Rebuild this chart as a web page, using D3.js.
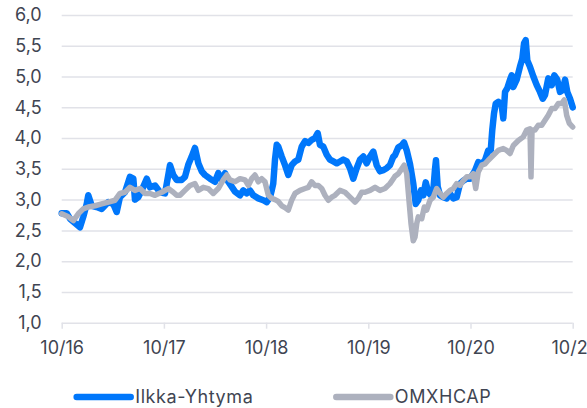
<!DOCTYPE html>
<html>
<head>
<meta charset="utf-8">
<script src="https://cdn.jsdelivr.net/npm/d3@7"></script>
<style>
  html, body { margin: 0; padding: 0; background: #ffffff; }
  svg { display: block; font-family: Inter, "Open Sans", sans-serif; }
</style>
</head>
<body>
<svg id="chart" width="587" height="408"></svg>
<script>
// ---- Data (decimal year, value) ----
const seriesNames = ["Ilkka-Yhtyma", "OMXHCAP"];

const ilkkaDates = [2016.750,2016.799,2016.831,2016.880,2016.929,2016.961,2016.995,2017.010,2017.044,2017.092,2017.141,2017.206,2017.255,2017.288,2017.320,2017.369,2017.418,2017.451,2017.467,2017.500,2017.533,2017.582,2017.614,2017.663,2017.712,2017.761,2017.810,2017.842,2017.875,2017.924,2017.956,2017.989,2018.022,2018.054,2018.087,2018.120,2018.152,2018.201,2018.250,2018.282,2018.316,2018.348,2018.380,2018.413,2018.446,2018.495,2018.527,2018.560,2018.592,2018.625,2018.674,2018.723,2018.756,2018.788,2018.805,2018.820,2018.837,2018.854,2018.869,2018.903,2018.935,2018.967,2019.000,2019.033,2019.065,2019.098,2019.131,2019.163,2019.196,2019.228,2019.255,2019.277,2019.310,2019.343,2019.375,2019.408,2019.441,2019.473,2019.505,2019.539,2019.571,2019.603,2019.636,2019.669,2019.701,2019.734,2019.767,2019.799,2019.832,2019.864,2019.897,2019.930,2019.962,2019.995,2020.011,2020.044,2020.077,2020.099,2020.126,2020.158,2020.190,2020.214,2020.239,2020.266,2020.288,2020.312,2020.337,2020.364,2020.386,2020.403,2020.412,2020.429,2020.452,2020.484,2020.517,2020.549,2020.582,2020.615,2020.647,2020.680,2020.713,2020.745,2020.794,2020.826,2020.860,2020.892,2020.924,2020.948,2020.963,2020.980,2020.997,2021.022,2021.055,2021.071,2021.088,2021.110,2021.137,2021.153,2021.169,2021.202,2021.234,2021.257,2021.274,2021.290,2021.306,2021.332,2021.365,2021.398,2021.430,2021.457,2021.479,2021.511,2021.545,2021.570,2021.599,2021.626,2021.652,2021.675,2021.697,2021.724,2021.750];
const ilkkaValues = [2.78,2.78,2.69,2.62,2.55,2.72,2.93,3.07,2.90,2.88,2.85,2.96,2.93,2.80,3.04,3.12,3.37,3.34,3.00,3.04,3.15,3.34,3.20,3.23,3.12,3.10,3.56,3.40,3.32,3.32,3.37,3.57,3.70,3.84,3.59,3.46,3.40,3.34,3.29,3.43,3.32,3.43,3.29,3.21,3.13,3.07,3.15,3.10,3.15,3.07,3.02,2.99,2.96,3.04,3.15,3.26,3.65,3.89,3.86,3.70,3.56,3.40,3.56,3.62,3.65,3.86,3.95,3.92,3.97,4.00,4.08,3.89,3.86,3.73,3.65,3.62,3.59,3.62,3.65,3.62,3.51,3.34,3.51,3.65,3.70,3.59,3.70,3.78,3.56,3.46,3.48,3.51,3.56,3.70,3.72,3.85,3.88,3.93,3.80,3.58,3.26,2.93,2.99,3.15,3.07,3.28,3.12,3.07,3.15,3.50,3.64,3.21,3.07,3.04,3.02,3.10,3.02,3.04,3.26,3.31,3.34,3.34,3.47,3.61,3.58,3.64,3.80,3.80,4.13,4.40,4.56,4.59,4.53,4.32,4.75,4.81,4.95,5.02,4.83,4.95,5.16,5.29,5.54,5.59,5.26,5.16,5.00,4.86,4.75,4.64,4.70,4.97,4.86,5.02,4.95,4.75,4.78,4.95,4.75,4.64,4.50];

const omxDates = [2016.750,2016.815,2016.864,2016.912,2016.961,2017.010,2017.076,2017.141,2017.206,2017.272,2017.320,2017.369,2017.418,2017.467,2017.516,2017.565,2017.614,2017.663,2017.729,2017.793,2017.842,2017.875,2017.908,2017.956,2018.005,2018.054,2018.087,2018.136,2018.184,2018.233,2018.282,2018.331,2018.365,2018.397,2018.446,2018.495,2018.544,2018.576,2018.609,2018.641,2018.674,2018.707,2018.739,2018.772,2018.805,2018.837,2018.869,2018.903,2018.935,2018.967,2019.000,2019.033,2019.082,2019.131,2019.163,2019.196,2019.228,2019.261,2019.294,2019.326,2019.359,2019.392,2019.424,2019.473,2019.522,2019.571,2019.620,2019.652,2019.685,2019.718,2019.767,2019.816,2019.864,2019.913,2019.962,2019.995,2020.011,2020.044,2020.077,2020.102,2020.126,2020.148,2020.168,2020.190,2020.207,2020.224,2020.239,2020.273,2020.298,2020.321,2020.354,2020.386,2020.419,2020.452,2020.484,2020.517,2020.549,2020.582,2020.615,2020.647,2020.680,2020.713,2020.745,2020.777,2020.801,2020.826,2020.860,2020.892,2020.924,2020.973,2021.022,2021.071,2021.104,2021.137,2021.169,2021.218,2021.267,2021.300,2021.332,2021.342,2021.352,2021.381,2021.413,2021.447,2021.479,2021.511,2021.545,2021.577,2021.609,2021.642,2021.668,2021.691,2021.717,2021.750];
const omxValues = [2.77,2.72,2.66,2.77,2.85,2.88,2.90,2.93,2.96,2.99,3.10,3.12,3.20,3.15,3.18,3.10,3.10,3.07,3.12,3.18,3.12,3.07,3.07,3.15,3.23,3.26,3.15,3.20,3.18,3.10,3.18,3.32,3.40,3.32,3.29,3.34,3.32,3.23,3.34,3.40,3.29,3.34,3.29,3.07,3.02,3.00,2.97,2.90,2.87,2.83,2.99,3.10,3.15,3.18,3.20,3.29,3.23,3.23,3.18,3.07,2.99,3.04,3.07,3.15,3.12,3.04,2.96,3.02,3.12,3.12,3.15,3.20,3.15,3.18,3.26,3.34,3.38,3.42,3.50,3.56,3.42,2.99,2.61,2.33,2.39,2.61,2.72,2.69,2.88,2.83,2.99,3.04,3.18,3.10,3.04,3.10,3.15,3.18,3.26,3.23,3.31,3.37,3.37,3.42,3.18,3.45,3.56,3.58,3.64,3.72,3.80,3.83,3.80,3.75,3.88,3.96,4.02,4.13,4.15,3.37,4.13,4.13,4.21,4.21,4.29,4.37,4.48,4.48,4.56,4.56,4.62,4.37,4.24,4.18];

const xTicks = [2016.75, 2017.75, 2018.75, 2019.75, 2020.75, 2021.75];
const xTickLabels = ["10/16", "10/17", "10/18", "10/19", "10/20", "10/21"];
const yTicks = [1.0, 1.5, 2.0, 2.5, 3.0, 3.5, 4.0, 4.5, 5.0, 5.5, 6.0];
const yTickLabels = ["1,0", "1,5", "2,0", "2,5", "3,0", "3,5", "4,0", "4,5", "5,0", "5,5", "6,0"];

// ---- Drawing ----
const colors = ["#0077fb", "#adb1be"];
const widths = [6.5, 5.5];
const textColor = "#3f4552";
const gridColor = "#e1e2e8";

const svg = d3.select("#chart");
const plot = { left: 61.7, right: 572.7, top: 15, bottom: 322.7 };

const x = d3.scaleLinear().domain([2016.75, 2021.75]).range([plot.left, plot.right]);
const y = d3.scaleLinear().domain([1, 6]).range([plot.bottom, plot.top]);

// gridlines + y labels
const yAxis = d3.axisLeft(y).tickValues(yTicks)
  .tickFormat((d, i) => yTickLabels[i])
  .tickSize(-(plot.right - plot.left)).tickPadding(20);
const gy = svg.append("g").attr("transform", `translate(${plot.left},0)`).call(yAxis);
gy.select(".domain").remove();
gy.selectAll(".tick line").attr("stroke", gridColor).attr("stroke-width", 1.5);
gy.selectAll(".tick text").attr("fill", textColor).attr("font-size", 18)
  .attr("font-family", "Inter, 'Open Sans', sans-serif");

// x axis ticks
const xAxis = d3.axisBottom(x).tickValues(xTicks)
  .tickFormat((d, i) => xTickLabels[i]).tickSize(6).tickPadding(13);
const gx = svg.append("g").attr("transform", `translate(0,${plot.bottom})`).call(xAxis);
gx.select(".domain").remove();
gx.selectAll(".tick line").attr("stroke", gridColor).attr("stroke-width", 1.5);
gx.selectAll(".tick text").attr("fill", textColor).attr("font-size", 18)
  .attr("font-family", "Inter, 'Open Sans', sans-serif");

// lines
const seriesData = [
  ilkkaDates.map((d, i) => [d, ilkkaValues[i]]),
  omxDates.map((d, i) => [d, omxValues[i]])
];
const line = d3.line().x(d => x(d[0])).y(d => y(d[1]));
seriesData.forEach((s, i) => {
  svg.append("path").datum(s)
    .attr("d", line)
    .attr("fill", "none")
    .attr("stroke", colors[i])
    .attr("stroke-width", widths[i])
    .attr("stroke-linejoin", "round")
    .attr("stroke-linecap", "round");
});

// legend
const legendX = [76.7, 336.3];
const legendY = 397;
seriesNames.forEach((name, i) => {
  const g = svg.append("g").attr("transform", `translate(${legendX[i]},${legendY})`);
  g.append("line").attr("x1", 0).attr("x2", 54).attr("y1", 0).attr("y2", 0)
    .attr("stroke", colors[i]).attr("stroke-width", 6.5).attr("stroke-linecap", "round");
  g.append("text").attr("x", 58.5).attr("y", 0).attr("dy", "0.35em")
    .attr("fill", textColor).attr("font-size", 18).attr("letter-spacing", 0.6)
    .text(name);
});
</script>
</body>
</html>
